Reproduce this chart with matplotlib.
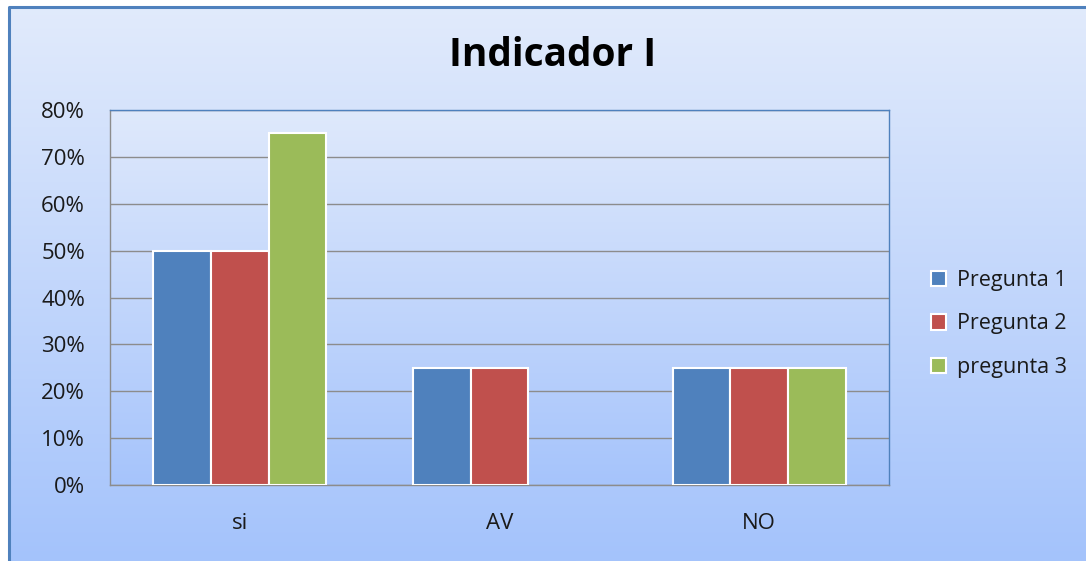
import numpy as np
import matplotlib.pyplot as plt
from matplotlib.colors import LinearSegmentedColormap
from matplotlib.patches import Rectangle
from matplotlib.ticker import PercentFormatter

categories = ['si', 'AV', 'NO']
series_names = ['Pregunta 1', 'Pregunta 2', 'pregunta 3']
pregunta1 = [50, 25, 25]
pregunta2 = [50, 25, 25]
pregunta3 = [75, 0, 25]
colors = ['#4f81bd', '#c0504d', '#9bbb59']

plt.rcParams['font.family'] = ['Open Sans', 'DejaVu Sans']

fig = plt.figure(figsize=(10.86, 5.61), dpi=100)

# background gradient for the whole chart area
grad = LinearSegmentedColormap.from_list('bg', ['#e2ebfc', '#a4c3fb'])
bg = fig.add_axes([0, 0, 1, 1], zorder=-10)
bg.imshow(np.linspace(0, 1, 256).reshape(-1, 1), aspect='auto', cmap=grad,
          extent=[0, 1, 0, 1], origin='upper')
bg.set_xlim(0, 1)
bg.set_ylim(0, 1)
bg.axis('off')
# white margin top/left and blue frame
bg.add_patch(Rectangle((0, 1 - 6 / 561), 1, 6 / 561, color='white', zorder=2))
bg.add_patch(Rectangle((0, 0), 9 / 1086, 1, color='white', zorder=2))
bg.plot([9 / 1086, 9 / 1086, 1.0], [0, 1 - 7 / 561, 1 - 7 / 561],
        color='#4f81bd', lw=2.2, zorder=3)

# plot area
ax = fig.add_axes([110 / 1086, 1 - 485 / 561, 779 / 1086, 375 / 561])
ax.imshow(np.linspace(0, 1, 256).reshape(-1, 1), aspect='auto',
          cmap=LinearSegmentedColormap.from_list('pa', ['#dfe9fc', '#a6c4fb']),
          extent=[-0.5, 2.5, 0, 80], origin='upper', zorder=0)

x = np.arange(len(categories))
w = 0.222
for i, (vals, name) in enumerate(zip([pregunta1, pregunta2, pregunta3], series_names)):
    vals = np.array(vals, dtype=float)
    vals[vals == 0] = np.nan  # no visible bar for empty values
    ax.bar(x + (i - 1) * w, vals, width=w, color=colors[i], edgecolor='white',
           linewidth=1.5, label=name, zorder=3)

ax.set_xlim(-0.5, 2.5)
ax.set_ylim(0, 80)
ax.set_yticks(np.arange(0, 81, 10))
ax.yaxis.set_major_formatter(PercentFormatter(decimals=0))
ax.set_xticks(x)
ax.set_xticklabels(categories)
ax.grid(axis='y', color='#8c8c8c', linewidth=1.0, zorder=1)
ax.tick_params(axis='both', length=0, labelsize=16, colors='#1a1a1a')
ax.tick_params(axis='x', pad=20)
ax.tick_params(axis='y', pad=18)
for s in ['top', 'right']:
    ax.spines[s].set_color('#4f81bd')
for s in ['left', 'bottom']:
    ax.spines[s].set_color('#8c8c8c')
for s in ax.spines.values():
    s.set_linewidth(1.0)

fig.text(553 / 1086, 1 - 55 / 561, 'Indicador I', ha='center', va='center',
         fontsize=28, fontweight='bold', color='black')

leg = fig.legend(loc='center left', bbox_to_anchor=(912 / 1086, 1 - 324 / 561),
                 frameon=False, fontsize=15.5, handlelength=0.7, handleheight=0.7,
                 labelspacing=1.05, handletextpad=0.5)
for t in leg.get_texts():
    t.set_color('#1a1a1a')

plt.savefig('out.png', dpi=100)
